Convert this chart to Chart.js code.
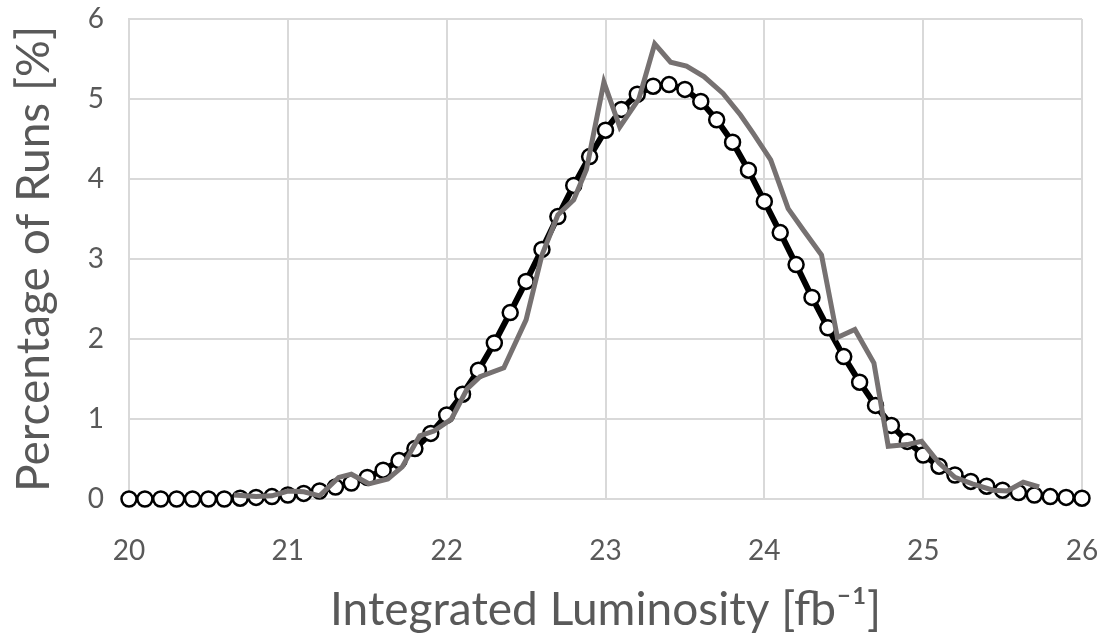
<!DOCTYPE html>
<html lang="en">
<head>
    <meta charset="UTF-8">
    <title>Integrated Luminosity</title>
    <style>
        body {
            margin: 0;
            background-color: #fff;
        }
        #wrap {
            width: 1103px;
            height: 641px;
        }
    </style>
    <script src="https://cdn.jsdelivr.net/npm/chart.js"></script>
</head>
<body>
<div id="wrap"><canvas id="chart" width="1103" height="641"></canvas></div>

<script>
    // fitted distribution (black line with open circles)
    const fitX = [20.0, 20.1, 20.2, 20.3, 20.4, 20.5, 20.6, 20.7, 20.8, 20.9,
                  21.0, 21.1, 21.2, 21.3, 21.4, 21.5, 21.6, 21.7, 21.8, 21.9,
                  22.0, 22.1, 22.2, 22.3, 22.4, 22.5, 22.6, 22.7, 22.8, 22.9,
                  23.0, 23.1, 23.2, 23.3, 23.4, 23.5, 23.6, 23.7, 23.8, 23.9,
                  24.0, 24.1, 24.2, 24.3, 24.4, 24.5, 24.6, 24.7, 24.8, 24.9,
                  25.0, 25.1, 25.2, 25.3, 25.4, 25.5, 25.6, 25.7, 25.8, 25.9, 26.0];
    const fitY = [0, 0, 0, 0, 0, 0, 0, 0.01, 0.02, 0.03,
                  0.05, 0.07, 0.1, 0.15, 0.2, 0.27, 0.36, 0.48, 0.63, 0.82,
                  1.05, 1.31, 1.61, 1.95, 2.33, 2.72, 3.12, 3.53, 3.92, 4.28,
                  4.61, 4.87, 5.06, 5.16, 5.18, 5.12, 4.97, 4.74, 4.46, 4.11,
                  3.72, 3.33, 2.93, 2.52, 2.14, 1.78, 1.46, 1.17, 0.92, 0.72,
                  0.55, 0.41, 0.3, 0.22, 0.16, 0.11, 0.08, 0.05, 0.03, 0.02, 0.01];

    // measured runs (grey line)
    const runX = [20.66, 20.8, 20.9, 21.0, 21.1, 21.2, 21.32, 21.4, 21.51, 21.63,
                  21.72, 21.83, 21.92, 22.03, 22.13, 22.21, 22.36, 22.5, 22.6, 22.7,
                  22.8, 22.88, 22.99, 23.09, 23.21, 23.31, 23.41, 23.51, 23.62, 23.74,
                  23.85, 23.93, 24.04, 24.15, 24.25, 24.36, 24.46, 24.57, 24.69, 24.78,
                  24.9, 24.99, 25.1, 25.2, 25.31, 25.44, 25.53, 25.63, 25.73];
    const runY = [0.05, 0.03, 0.04, 0.1, 0.09, 0.04, 0.27, 0.31, 0.19, 0.25,
                  0.4, 0.79, 0.85, 1.0, 1.38, 1.53, 1.64, 2.24, 3.05, 3.55,
                  3.74, 4.12, 5.21, 4.65, 5.0, 5.69, 5.46, 5.41, 5.28, 5.07,
                  4.8, 4.57, 4.24, 3.63, 3.35, 3.05, 2.02, 2.12, 1.7, 0.66,
                  0.68, 0.72, 0.45, 0.27, 0.19, 0.11, 0.1, 0.21, 0.15];

    const xMin = 20, xMax = 26;
    const yMin = 0, yMax = 6;

    const textColor = '#595959';
    const gridColor = '#d9d9d9';
    const fontFamily = "Lato, 'Open Sans', sans-serif";

    const toPoints = (xs, ys) => xs.map((x, i) => ({ x: x, y: ys[i] }));

    new Chart(document.getElementById('chart').getContext('2d'), {
        type: 'line',
        data: {
            datasets: [
                {
                    label: 'Runs',
                    data: toPoints(runX, runY),
                    borderColor: '#767171',
                    borderWidth: 5,
                    pointRadius: 0,
                    tension: 0,
                    fill: false,
                    clip: false,
                    order: 0
                },
                {
                    label: 'Fit',
                    data: toPoints(fitX, fitY),
                    borderColor: '#000',
                    borderWidth: 6,
                    pointRadius: 7.5,
                    pointBorderWidth: 2.5,
                    pointBorderColor: '#000',
                    pointBackgroundColor: '#fff',
                    tension: 0,
                    fill: false,
                    clip: false,
                    order: 1
                }
            ]
        },
        options: {
            responsive: false,
            animation: false,
            devicePixelRatio: 1,
            layout: {
                padding: { top: 19, right: 21, bottom: 0, left: 0 }
            },
            plugins: {
                legend: { display: false },
                tooltip: { enabled: false }
            },
            scales: {
                x: {
                    type: 'linear',
                    min: xMin,
                    max: xMax,
                    afterFit: scale => {
                        scale.height = 142;
                        scale.paddingLeft = 0;
                        scale.paddingRight = 0;
                    },
                    ticks: {
                        stepSize: 1,
                        padding: 35,
                        color: textColor,
                        font: { family: fontFamily, size: 28 }
                    },
                    grid: {
                        color: gridColor,
                        lineWidth: 2,
                        drawTicks: false
                    },
                    border: { color: gridColor, width: 2 },
                    title: {
                        display: true,
                        text: 'Integrated Luminosity [fb\u207B\u00B9]',
                        color: textColor,
                        font: { family: fontFamily, size: 46 },
                        padding: { top: 0, bottom: 3 }
                    }
                },
                y: {
                    min: yMin,
                    max: yMax,
                    afterFit: scale => {
                        scale.width = 129;
                        scale.paddingTop = 0;
                        scale.paddingBottom = 0;
                    },
                    ticks: {
                        stepSize: 1,
                        padding: 25,
                        color: textColor,
                        font: { family: fontFamily, size: 28 }
                    },
                    grid: {
                        color: gridColor,
                        lineWidth: 2,
                        drawTicks: false
                    },
                    border: { color: gridColor, width: 2 },
                    title: {
                        display: true,
                        text: 'Percentage of Runs [%]',
                        color: textColor,
                        font: { family: fontFamily, size: 46 },
                        padding: { top: 7, bottom: 0 }
                    }
                }
            }
        }
    });
</script>
</body>
</html>
